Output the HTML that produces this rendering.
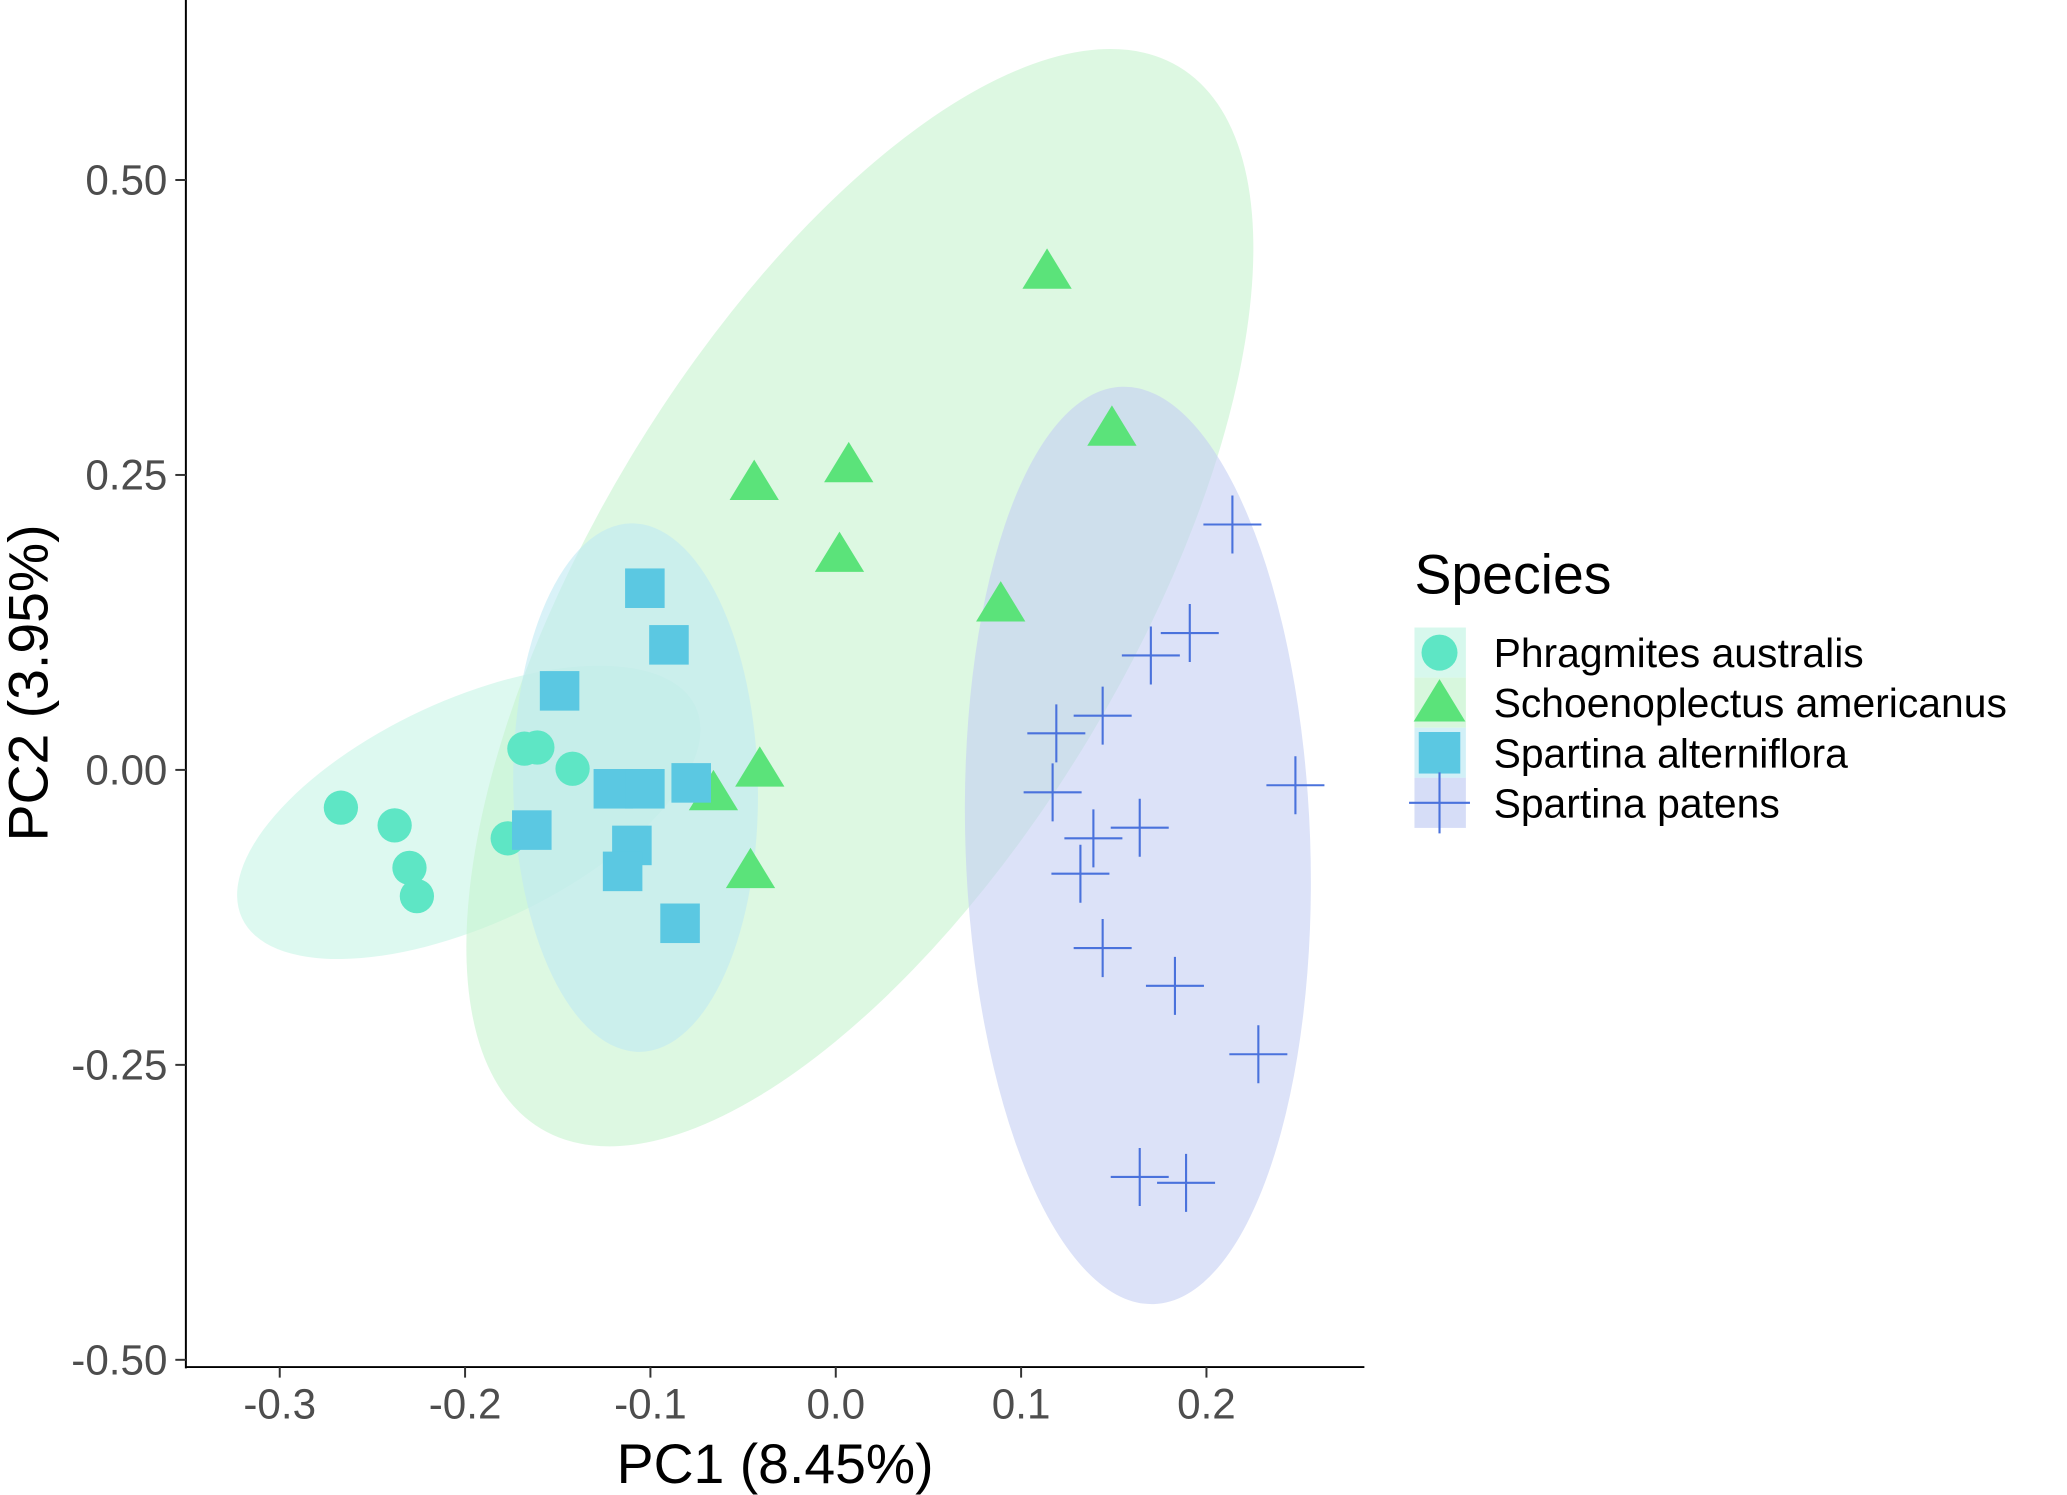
<!DOCTYPE html>
<html><head><meta charset="utf-8"><style>
html,body{margin:0;padding:0;background:#fff;}
svg{display:block;}
text{font-family:"Liberation Sans",Arial,sans-serif;}
</style></head><body>
<svg id="chart" width="2067" height="1495" viewBox="0 0 1568 1134" xmlns="http://www.w3.org/2000/svg">
<g id="ell"></g>
<g id="pts"></g>
<line x1="141" y1="0" x2="141" y2="1038" stroke="#000" stroke-width="1.5"/>
<line x1="141" y1="1037" x2="1035" y2="1037" stroke="#000" stroke-width="1.5"/>
<g id="ticks"></g>
<text x="588" y="1125" font-size="42" text-anchor="middle" fill="#000">PC1 (8.45%)</text>
<text transform="translate(36,518) rotate(-90)" font-size="42" text-anchor="middle" fill="#000">PC2 (3.95%)</text>
<g id="legend">
<text x="1073" y="450" font-size="42" fill="#000">Species</text>
</g>
</svg>
<script>
const xTicks=[-0.3,-0.2,-0.1,0.0,0.1,0.2];
const xTickLabels=["-0.3","-0.2","-0.1","0.0","0.1","0.2"];
const yTicks=[0.5,0.25,0,-0.25,-0.5];
const yTickLabels=["0.50","0.25","0.00","-0.25","-0.50"];
const species=["Phragmites australis","Schoenoplectus americanus","Spartina alterniflora","Spartina patens"];
const colors=["#5ee6c5","#5be37a","#5bc8e2","#4a72dc"];
const ellColors=["#c6f5e6","#c6f3cf","#bfe9f3","#c5cff3"];
const phragX=[-0.267,-0.238,-0.230,-0.226,-0.177,-0.168,-0.161,-0.142];
const phragY=[-0.032,-0.047,-0.083,-0.107,-0.058,0.018,0.019,0.001];
const schoX=[0.114,0.149,0.007,-0.044,0.002,0.089,-0.041,-0.066,-0.046];
const schoY=[0.423,0.290,0.259,0.244,0.183,0.141,0.001,-0.019,-0.085];
const altX=[-0.103,-0.090,-0.149,-0.120,-0.103,-0.078,-0.164,-0.110,-0.115,-0.084];
const altY=[0.154,0.106,0.067,-0.016,-0.016,-0.011,-0.051,-0.064,-0.086,-0.130];
const patX=[0.214,0.191,0.170,0.144,0.119,0.248,0.117,0.139,0.164,0.132,0.144,0.183,0.228,0.164,0.189];
const patY=[0.208,0.116,0.097,0.046,0.031,-0.013,-0.019,-0.058,-0.049,-0.088,-0.151,-0.183,-0.241,-0.345,-0.350];
const ellCX=[-0.198,0.013,-0.108,0.163];
const ellCY=[-0.036,0.146,-0.015,-0.064];
const ellA=[0.135,0.145,0.066,0.093];
const ellB=[0.095,0.525,0.224,0.389];
const ellRot=[-25,31,-1,-2];
const sx=v=>634+v*1406;
const sy=v=>584-v*895;
const NS="http://www.w3.org/2000/svg";
function mk(t,a,p){const e=document.createElementNS(NS,t);for(const k in a)e.setAttribute(k,a[k]);p.appendChild(e);return e;}
const ell=document.getElementById('ell');
for(let i=0;i<4;i++){
 const e=mk('ellipse',{cx:sx(ellCX[i]),cy:sy(ellCY[i]),rx:ellA[i]*1406,ry:ellB[i]*895,fill:ellColors[i],'fill-opacity':0.6,transform:`rotate(${ellRot[i]} ${sx(ellCX[i])} ${sy(ellCY[i])})`},ell);
 
 
}
function marker(k,x,y,p,s){
 s=s||1;let e;
 if(k===0)e=mk('circle',{cx:x,cy:y,r:13*s,fill:colors[0]},p);
 else if(k===1){const h=17*s;e=mk('polygon',{points:`${x},${y-h} ${x-h*1.1},${y+h*0.8} ${x+h*1.1},${y+h*0.8}`,fill:colors[1]},p);}
 else if(k===2)e=mk('rect',{x:x-15*s,y:y-15*s,width:30*s,height:30*s,fill:colors[2]},p);
 else e=mk('path',{d:`M${x-22*s},${y}H${x+22*s}M${x},${y-22*s}V${y+22*s}`,stroke:colors[3],'stroke-width':1.6,fill:'none'},p);
 return e;
}
const pts=document.getElementById('pts');
const sets=[[phragX,phragY],[schoX,schoY],[altX,altY],[patX,patY]];
sets.forEach((s,k)=>{s[0].forEach((v,j)=>{
 const e=marker(k,sx(v),sy(s[1][j]),pts);
 
 
});});
const tk=document.getElementById('ticks');
xTicks.forEach((v,i)=>{
 const l=mk('line',{x1:sx(v),x2:sx(v),y1:1037,y2:1045,stroke:'#333','stroke-width':1.5},tk);
 
 
 const t=mk('text',{x:sx(v),y:1076,'font-size':32,'text-anchor':'middle',fill:'#4d4d4d'},tk);t.textContent=xTickLabels[i];
 
 
});
yTicks.forEach((v,i)=>{
 const l=mk('line',{x1:133,x2:141,y1:sy(v),y2:sy(v),stroke:'#333','stroke-width':1.5},tk);
 
 
 const t=mk('text',{x:127,y:sy(v)+11,'font-size':32,'text-anchor':'end',fill:'#4d4d4d'},tk);t.textContent=yTickLabels[i];
 
 
});
const lg=document.getElementById('legend');
species.forEach((s,i)=>{
 const y=495+i*38;
 const g=mk('g',{},lg);
 
 
 mk('rect',{x:1073,y:y-19,width:39,height:38,fill:ellColors[i],'fill-opacity':0.7},g);
 marker(i,1092,y,g,1.05);
 const t=mk('text',{x:1133,y:y+11,'font-size':31,fill:'#000'},g);t.textContent=s;
});
</script>
</body></html>
